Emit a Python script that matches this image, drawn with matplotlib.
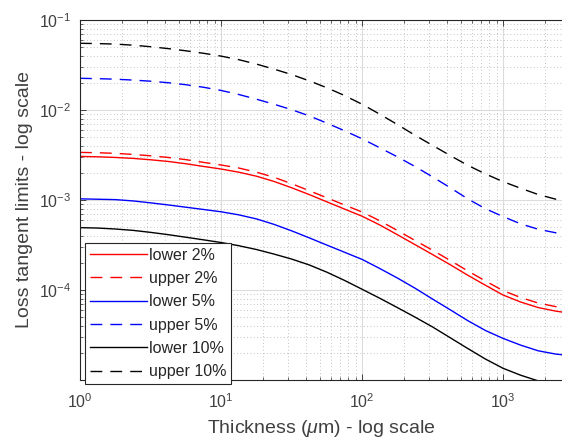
import numpy as np
import matplotlib
matplotlib.use("Agg")
import matplotlib.pyplot as plt
from matplotlib.ticker import LogLocator, NullFormatter, FixedLocator

plt.rcParams['font.family'] = ['Liberation Sans', 'DejaVu Sans']
plt.rcParams['mathtext.fontset'] = 'custom'
plt.rcParams['mathtext.rm'] = 'Liberation Sans'
plt.rcParams['mathtext.it'] = 'Liberation Sans:italic'
plt.rcParams['mathtext.default'] = 'regular'

# thickness (um) sample positions
thickness = [1.0, 1.33, 1.78, 2.37, 3.16, 4.22, 5.62, 7.50, 10.0, 13.3, 17.8, 23.7,
             31.6, 42.2, 56.2, 75.0, 100.0, 133.0, 178.0, 237.0, 316.0, 422.0,
             562.0, 750.0, 1000.0, 1334.0, 1778.0, 2371.0, 2618.0]

lower_2 = [3.05e-3, 3.02e-3, 2.97e-3, 2.90e-3, 2.80e-3, 2.68e-3, 2.53e-3, 2.36e-3,
           2.21e-3, 2.04e-3, 1.84e-3, 1.61e-3, 1.37e-3, 1.15e-3, 9.55e-4, 7.94e-4,
           6.61e-4, 5.30e-4, 4.12e-4, 3.20e-4, 2.48e-4, 1.91e-4, 1.46e-4, 1.13e-4,
           8.80e-5, 7.35e-5, 6.38e-5, 5.82e-5, 5.69e-5]
upper_2 = [3.38e-3, 3.35e-3, 3.30e-3, 3.21e-3, 3.10e-3, 2.97e-3, 2.81e-3, 2.62e-3,
           2.45e-3, 2.27e-3, 2.04e-3, 1.79e-3, 1.52e-3, 1.27e-3, 1.06e-3, 8.81e-4,
           7.36e-4, 5.90e-4, 4.59e-4, 3.56e-4, 2.77e-4, 2.13e-4, 1.63e-4, 1.26e-4,
           9.85e-5, 8.25e-5, 7.16e-5, 6.53e-5, 6.38e-5]
lower_5 = [1.03e-3, 1.02e-3, 1.01e-3, 9.77e-4, 9.30e-4, 8.81e-4, 8.32e-4, 7.85e-4,
           7.40e-4, 6.85e-4, 6.17e-4, 5.37e-4, 4.55e-4, 3.80e-4, 3.16e-4, 2.63e-4,
           2.19e-4, 1.74e-4, 1.36e-4, 1.05e-4, 7.94e-5, 6.03e-5, 4.57e-5, 3.55e-5,
           2.90e-5, 2.44e-5, 2.11e-5, 1.94e-5, 1.91e-5]
upper_5 = [2.25e-2, 2.23e-2, 2.20e-2, 2.15e-2, 2.09e-2, 2.01e-2, 1.91e-2, 1.79e-2,
           1.65e-2, 1.49e-2, 1.32e-2, 1.16e-2, 1.01e-2, 8.61e-3, 7.16e-3, 5.89e-3,
           4.79e-3, 3.82e-3, 3.02e-3, 2.36e-3, 1.81e-3, 1.37e-3, 1.03e-3, 8.00e-4,
           6.55e-4, 5.43e-4, 4.73e-4, 4.32e-4, 4.22e-4]
lower_10 = [4.93e-4, 4.88e-4, 4.76e-4, 4.60e-4, 4.37e-4, 4.12e-4, 3.86e-4, 3.61e-4,
            3.37e-4, 3.11e-4, 2.82e-4, 2.51e-4, 2.21e-4, 1.90e-4, 1.58e-4, 1.28e-4,
            1.02e-4, 8.13e-5, 6.38e-5, 5.01e-5, 3.89e-5, 2.95e-5, 2.24e-5, 1.71e-5,
            1.35e-5, 1.13e-5, 9.77e-6, 8.71e-6, 8.51e-6]
upper_10 = [5.51e-2, 5.47e-2, 5.40e-2, 5.25e-2, 5.05e-2, 4.81e-2, 4.55e-2, 4.27e-2,
            3.97e-2, 3.63e-2, 3.24e-2, 2.85e-2, 2.48e-2, 2.11e-2, 1.77e-2, 1.45e-2,
            1.16e-2, 9.02e-3, 6.90e-3, 5.25e-3, 4.05e-3, 3.12e-3, 2.43e-3, 1.95e-3,
            1.60e-3, 1.35e-3, 1.15e-3, 1.02e-3, 1.00e-3]

labels = ['lower 2%', 'upper 2%', 'lower 5%', 'upper 5%', 'lower 10%', 'upper 10%']

fig = plt.figure(figsize=(5.62, 4.42), dpi=100)
ax = fig.add_axes([80/562, 1-380/442, (562-80)/562, 360/442])

lw = 1.0
dash = (0, (8.5, 5.8))
ax.plot(thickness, lower_2, color='#ff0000', lw=lw, ls='-', label=labels[0])
ax.plot(thickness, upper_2, color='#ff0000', lw=lw, ls=dash, label=labels[1])
ax.plot(thickness, lower_5, color='#0000ff', lw=lw, ls='-', label=labels[2])
ax.plot(thickness, upper_5, color='#0000ff', lw=lw, ls=dash, label=labels[3])
ax.plot(thickness, lower_10, color='#000000', lw=lw, ls='-', label=labels[4])
ax.plot(thickness, upper_10, color='#000000', lw=lw, ls=dash, label=labels[5])

ax.set_xscale('log')
ax.set_yscale('log')
ax.set_xlim(1, 2620)
ax.set_ylim(1e-5, 1e-1)

ax.xaxis.set_major_locator(FixedLocator([1, 10, 100, 1000]))
ax.yaxis.set_major_locator(FixedLocator([1e-4, 1e-3, 1e-2, 1e-1]))
ax.xaxis.set_minor_locator(LogLocator(base=10, subs=np.arange(2, 10), numticks=20))
ax.yaxis.set_minor_locator(LogLocator(base=10, subs=np.arange(2, 10), numticks=20))
ax.xaxis.set_minor_formatter(NullFormatter())
ax.yaxis.set_minor_formatter(NullFormatter())

ax.grid(True, which='major', color='#dcdcdc', ls='-', lw=0.8)
ax.grid(True, which='minor', color='#b0b0b0', ls=(0, (1, 3)), lw=0.6)
ax.set_axisbelow(True)

ax.tick_params(which='both', direction='in', top=True, right=False,
               colors='#262626', labelcolor='#404040', labelsize=11.5)
ax.tick_params(which='major', length=4, width=0.6)
ax.tick_params(which='minor', length=2, width=0.5)
ax.tick_params(axis='x', which='major', pad=9)
ax.tick_params(axis='y', which='major', pad=6.5)
ax.spines['right'].set_visible(False)
for s in ['left', 'bottom', 'top']:
    ax.spines[s].set_color('#262626')
    ax.spines[s].set_linewidth(0.8)

ax.set_xlabel('Thickness ($\\mathit{\\mu}$m) - log scale', fontsize=14, color='#404040', labelpad=5)
ax.set_ylabel('Loss tangent limits - log scale', fontsize=14, color='#404040', labelpad=4)

leg = ax.legend(loc='lower left', bbox_to_anchor=(0.0104, -0.011), borderaxespad=0,
                fontsize=11.5, handlelength=3.6, handletextpad=0.1, labelspacing=0.52,
                fancybox=False, framealpha=1, edgecolor='#262626', borderpad=0.3)
leg.get_frame().set_linewidth(0.8)
for t in leg.get_texts():
    t.set_color('#262626')

fig.savefig('out.png', dpi=100)
